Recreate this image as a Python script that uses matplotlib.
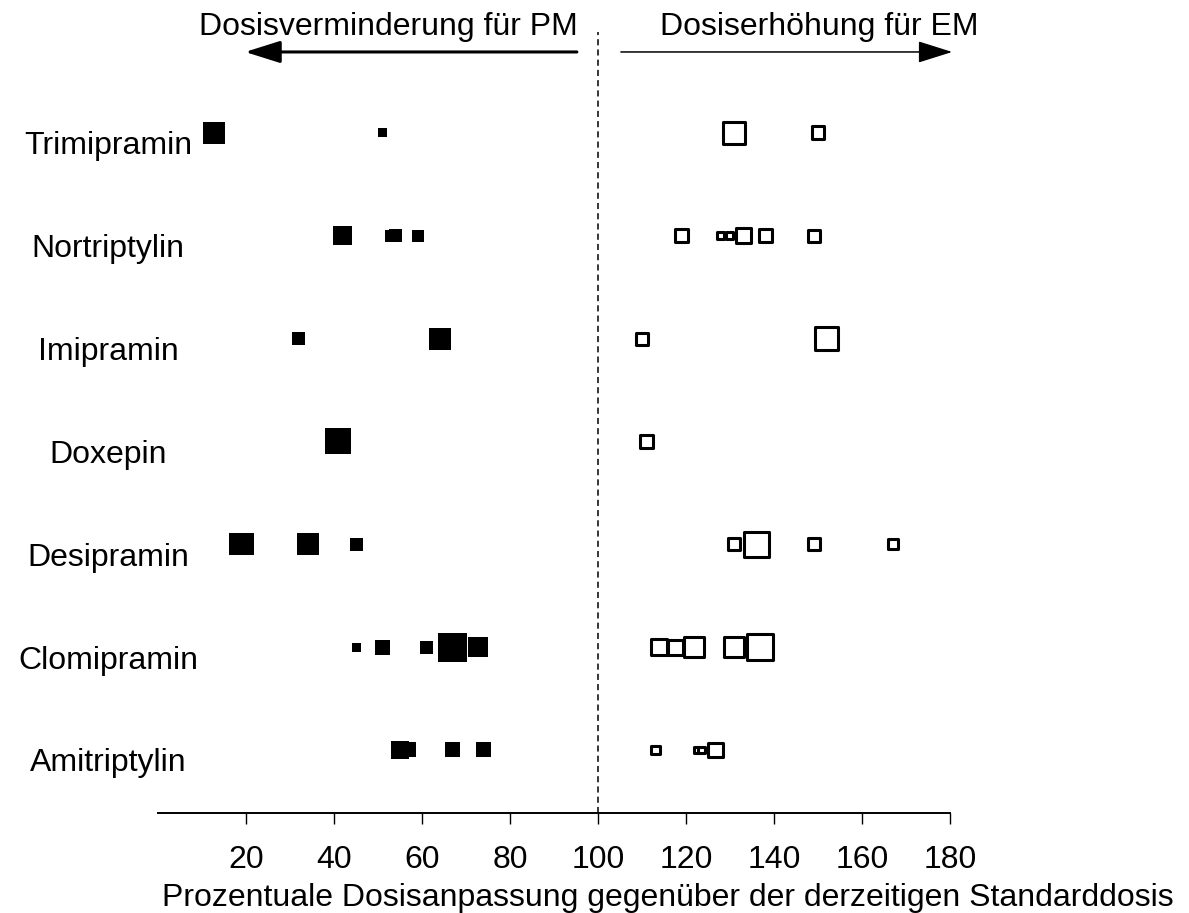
import matplotlib
matplotlib.use("Agg")
import matplotlib.pyplot as plt
from matplotlib.transforms import blended_transform_factory

plt.rcParams['font.family'] = ['Liberation Sans', 'DejaVu Sans']

# categories, bottom to top
drugs = ["Amitriptylin", "Clomipramin", "Desipramin", "Doxepin",
         "Imipramin", "Nortriptylin", "Trimipramin"]

# dose reduction for poor metabolizers (filled squares)
pm_drug = ["Trimipramin", "Trimipramin",
           "Nortriptylin", "Nortriptylin", "Nortriptylin", "Nortriptylin",
           "Imipramin", "Imipramin",
           "Doxepin",
           "Desipramin", "Desipramin", "Desipramin", "Desipramin",
           "Clomipramin", "Clomipramin", "Clomipramin", "Clomipramin", "Clomipramin",
           "Amitriptylin", "Amitriptylin", "Amitriptylin", "Amitriptylin"]
pm_dose = [12.8, 51,
           42, 53.0, 54.0, 59,
           32, 64,
           41,
           18.7, 19.3, 34, 45,
           45, 51, 61, 67, 72.7,
           55, 56.9, 67, 74]
pm_size = [22, 9,
           19, 12, 13, 12,
           13, 22,
           26,
           22, 22, 22, 13,
           9, 15, 13, 29, 20,
           18, 15, 15, 15]

# dose increase for extensive metabolizers (open squares)
em_drug = ["Trimipramin", "Trimipramin",
           "Nortriptylin", "Nortriptylin", "Nortriptylin", "Nortriptylin",
           "Nortriptylin", "Nortriptylin",
           "Imipramin", "Imipramin",
           "Doxepin",
           "Desipramin", "Desipramin", "Desipramin", "Desipramin",
           "Clomipramin", "Clomipramin", "Clomipramin", "Clomipramin", "Clomipramin",
           "Amitriptylin", "Amitriptylin", "Amitriptylin", "Amitriptylin"]
em_dose = [131, 150,
           119, 127.8, 129.8, 133, 138, 149,
           110, 152,
           111,
           131, 136, 149, 167,
           113.8, 117.7, 121.9, 131, 136.9,
           113, 122.5, 123.6, 126.8]
em_size = [25, 16,
           16, 10, 10, 18, 16, 15,
           15, 26,
           16,
           15, 28, 15, 13,
           19, 18, 23, 23, 29,
           12, 10, 10, 18]

xticks = [20, 40, 60, 80, 100, 120, 140, 160, 180]

fig = plt.figure(figsize=(11.89, 9.13), dpi=100)
ax = fig.add_axes([0.1329, 0.1095, 0.6661, 0.8576])

ypos = {d: i + 1 for i, d in enumerate(drugs)}
px = 0.72  # points per pixel

ax.axvline(100, ymin=0, ymax=0.997, color="black", lw=1.1, dashes=(4, 2.7))

ax.scatter(pm_dose, [ypos[d] for d in pm_drug],
           s=[(v * px) ** 2 for v in pm_size], marker="s",
           c="black", linewidths=0, zorder=3)
edge = 2.2
ax.scatter(em_dose, [ypos[d] for d in em_drug],
           s=[(v * px - edge) ** 2 for v in em_size], marker="s",
           facecolors="white", edgecolors="black", linewidths=edge, zorder=3)

ax.set_xlim(0, 180)
ax.set_ylim(0.387, 8.0)

for s in ["top", "left", "right"]:
    ax.spines[s].set_visible(False)
ax.spines["bottom"].set_linewidth(1.4)
ax.set_yticks([])
ax.set_xticks(xticks)
ax.tick_params(axis="x", length=8, width=1.0, labelsize=23, pad=15)

# drug names
lab_tr = blended_transform_factory(ax.transAxes, ax.transData)
for d in drugs:
    ax.text(-0.063, ypos[d] - 0.13, d, transform=lab_tr,
            ha="center", va="center", fontsize=23)

ax.set_xlabel("Prozentuale Dosisanpassung gegenüber der derzeitigen Standarddosis",
              fontsize=23)
ax.xaxis.set_label_coords(0.644, -0.09)

# direction arrows at the top
top_tr = blended_transform_factory(ax.transData, ax.transAxes)
ax.annotate("", xy=(19.8, 0.972), xytext=(95.2, 0.972),
            xycoords=top_tr, textcoords=top_tr,
            arrowprops=dict(arrowstyle="-|>,head_length=2.16,head_width=0.68",
                            mutation_scale=10, lw=2.2, color="black",
                            shrinkA=0, shrinkB=0))
ax.annotate("", xy=(180.5, 0.972), xytext=(105.2, 0.972),
            xycoords=top_tr, textcoords=top_tr,
            arrowprops=dict(arrowstyle="-|>,head_length=2.16,head_width=0.68",
                            mutation_scale=10, lw=1.1, color="black",
                            shrinkA=0, shrinkB=0))
ax.text(95.45, 0.9936, "Dosisverminderung für PM", transform=top_tr,
        ha="right", va="baseline", fontsize=23)
ax.text(114.1, 0.9936, "Dosiserhöhung für EM", transform=top_tr,
        ha="left", va="baseline", fontsize=23)

fig.savefig("out.png", dpi=100)
